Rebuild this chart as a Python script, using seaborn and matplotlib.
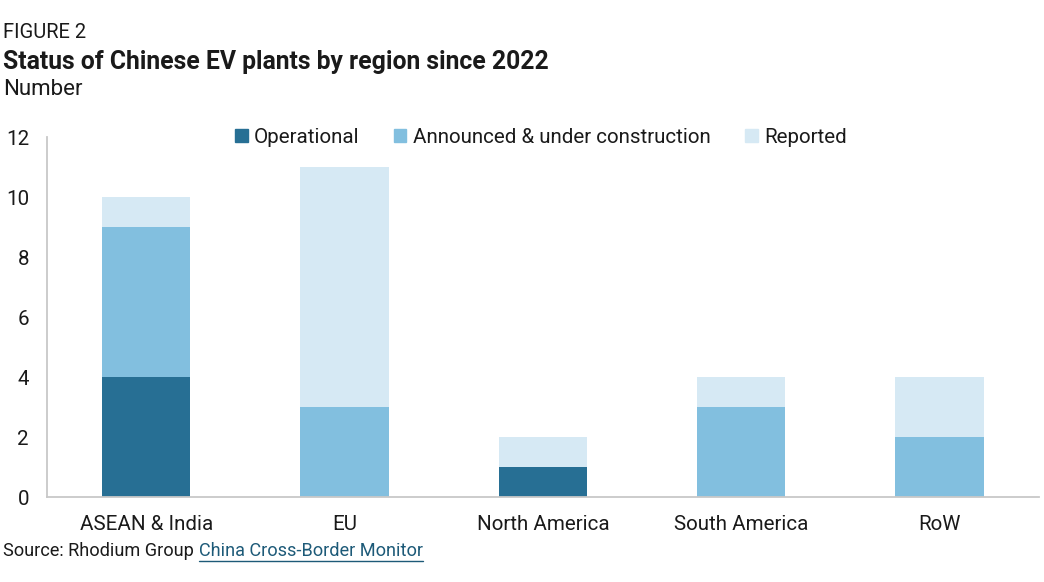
import seaborn as sns
import matplotlib.pyplot as plt
import pandas as pd
from matplotlib.patches import Patch
from matplotlib.lines import Line2D

# data
regions = ["ASEAN & India", "EU", "North America", "South America", "RoW"]
operational = [4, 0, 1, 0, 0]
announced = [5, 3, 0, 3, 2]
reported = [1, 8, 1, 1, 2]

c_op = "#276f94"
c_ann = "#82bfdf"
c_rep = "#d6e9f4"

sns.set_style("white")
plt.rcParams["font.family"] = ["Roboto", "DejaVu Sans"]
plt.rcParams["text.color"] = "#1a1a1a"

df = pd.DataFrame({"region": regions, "op": operational, "ann": announced, "rep": reported})
df["lvl2"] = df["op"] + df["ann"]
df["lvl3"] = df["lvl2"] + df["rep"]

fig = plt.figure(figsize=(10.44, 5.82), dpi=100)
ax = fig.add_axes([0.045, 0.146, 0.95, 0.6186])

# stacked bars drawn as overlapping cumulative totals
for col, color in [("lvl3", c_rep), ("lvl2", c_ann), ("op", c_op)]:
    sns.barplot(data=df, x="region", y=col, color=color, width=0.445,
                saturation=1, ax=ax, errorbar=None, linewidth=0)

ax.set_ylim(0, 12)
ax.set_xlim(-0.5, 4.5)
ax.set_yticks(range(0, 13, 2))
ax.set_xlabel("")
ax.set_ylabel("")
ax.tick_params(axis="both", length=0, labelsize=14.8, colors="#1a1a1a")
ax.tick_params(axis="y", pad=13)
ax.tick_params(axis="x", pad=13)
for s in ["top", "right"]:
    ax.spines[s].set_visible(False)
for s in ["left", "bottom"]:
    ax.spines[s].set_color("#c8c8c8")
    ax.spines[s].set_linewidth(1.3)

handles = [Patch(color=c_op, label="Operational"),
           Patch(color=c_ann, label="Announced & under construction"),
           Patch(color=c_rep, label="Reported")]
ax.legend(handles=handles, loc="upper center", bbox_to_anchor=(0.498, 1.076),
          ncol=3, frameon=False, fontsize=14.8, handlelength=0.6, handleheight=0.6,
          handletextpad=0.3, columnspacing=1.7)

fig.text(0.003, 0.944, "FIGURE 2", fontsize=14.5, va="center")
fig.text(0.003, 0.894, "Status of Chinese EV plants by region since 2022",
         fontsize=17.8, fontweight="bold", va="center")
fig.text(0.003, 0.846, "Number", fontsize=16, va="center")

src = fig.text(0.003, 0.053, "Source: Rhodium Group ", fontsize=13.1, va="center")
fig.canvas.draw()
r = fig.canvas.get_renderer()
bb = src.get_window_extent(r)
x1 = bb.x1 / fig.bbox.width
link = fig.text(x1, 0.053, "China Cross-Border Monitor", fontsize=13.1, va="center",
                color="#1d5a78")
fig.canvas.draw()
lb = link.get_window_extent(r)
y_ul = (lb.y0 - 1) / fig.bbox.height
fig.add_artist(Line2D([lb.x0 / fig.bbox.width, lb.x1 / fig.bbox.width], [y_ul, y_ul],
                      transform=fig.transFigure, color="#1d5a78", linewidth=1))

fig.savefig("out.png", dpi=100)
